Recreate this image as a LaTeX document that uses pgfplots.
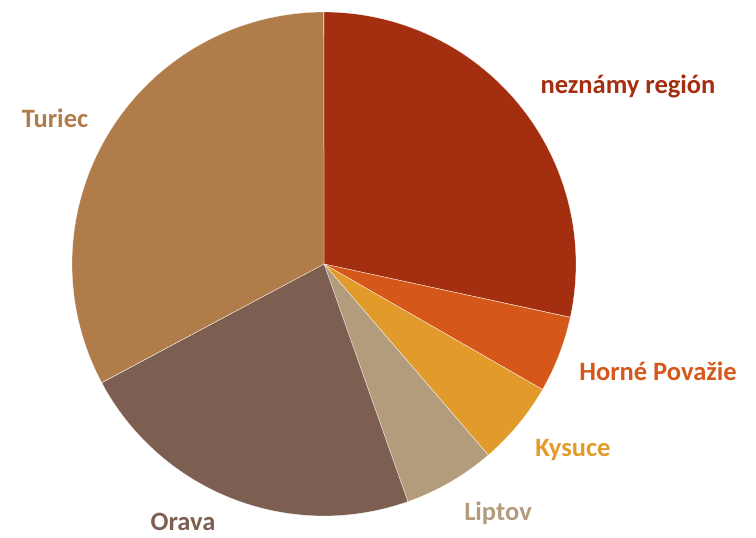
\documentclass[border=0pt]{standalone}
\usepackage{pgfplots}
\pgfplotsset{compat=1.18}
\usepackage{fontspec}
\setmainfont{Carlito}
\definecolor{cA}{HTML}{A32E10}
\definecolor{cB}{HTML}{D5581A}
\definecolor{cC}{HTML}{E29A2A}
\definecolor{cD}{HTML}{B29C7C}
\definecolor{cE}{HTML}{7D5F51}
\definecolor{cF}{HTML}{B07C4A}
% shares in percent, clockwise from 12 o'clock
\def\pA{28.4}\def\pB{4.9}\def\pC{5.4}\def\pD{5.9}\def\pE{22.6}\def\pF{32.8}
\pgfmathsetmacro\aA{90}
\pgfmathsetmacro\aB{\aA-3.6*\pA}
\pgfmathsetmacro\aC{\aB-3.6*\pB}
\pgfmathsetmacro\aD{\aC-3.6*\pC}
\pgfmathsetmacro\aE{\aD-3.6*\pD}
\pgfmathsetmacro\aF{\aE-3.6*\pE}
\pgfmathsetmacro\aG{\aF-3.6*\pF}
\def\cx{324}\def\cy{274}\def\rr{252}
\newcommand\slice[3]{%
  \addplot[fill=#3, draw=white, line width=0.25pt, samples at={-1,0,0.01,...,1.0001}, variable=\t]
   ({\t<-0.5 ? \cx : \cx+\rr*cos(#1+\t*(#2-#1))},
    {\t<-0.5 ? \cy : \cy+\rr*sin(#1+\t*(#2-#1))}) -- cycle;}
\begin{document}
\begin{tikzpicture}
\begin{axis}[hide axis, scale only axis, width=756pt, height=538pt,
  xmin=0, xmax=756, ymin=0, ymax=538, clip=false]
\path (rel axis cs:0,0) (rel axis cs:1,1);
\slice{\aA}{\aB}{cA}
\slice{\aB}{\aC}{cB}
\slice{\aC}{\aD}{cC}
\slice{\aD}{\aE}{cD}
\slice{\aE}{\aF}{cE}
\slice{\aF}{\aG}{cF}
\begin{scope}[font=\bfseries\fontsize{26.5}{30}\selectfont]
\node[text=cA] at (axis cs:628,452) {neznámy región};
\node[text=cB] at (axis cs:658,167) {Horné Považie};
\node[text=cC] at (axis cs:573,88) {Kysuce};
\node[text=cD] at (axis cs:498,25) {Liptov};
\node[text=cE] at (axis cs:183,16) {Orava};
\node[text=cF] at (axis cs:55,420) {Turiec};
\end{scope}
\end{axis}
\end{tikzpicture}
\end{document}
